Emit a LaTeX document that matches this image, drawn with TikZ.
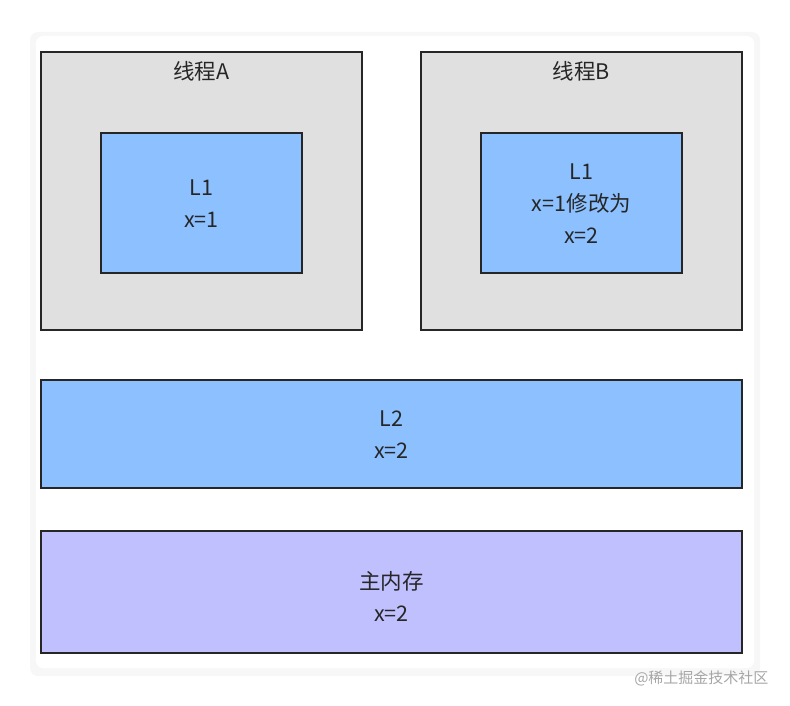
\documentclass[tikz,border=0pt]{standalone}
\usepackage{fontspec}
\setmainfont{Noto Sans CJK SC}
\begin{document}
\begin{tikzpicture}[x=1pt,y=-1pt,
  box/.style={draw=black!85,line width=2.4pt},
  lbl/.style={font=\fontsize{21.5}{32}\selectfont,align=center,text=black!85},
  wm/.style={font=\fontsize{15}{18}\selectfont,text=black!35,anchor=east}]
\useasboundingbox (0,0) rectangle (790,706);
\fill[black!6,rounded corners=8pt] (32,34) rectangle (758,674);
\fill[black!3,rounded corners=8pt] (30,32) rectangle (760,676);
\fill[white,rounded corners=7pt] (36,36) rectangle (754,668);
\draw[box,fill=black!12] (41,52) rectangle (362,330);
\node[lbl] (ta) at (201.5,71) {线程A};
\draw[box,fill={rgb,255:red,140;green,192;blue,255}] (101,133) rectangle (302,273);
\node[lbl] (l1a) at (201.5,204) {L1\\x=1};
\draw[box,fill=black!12] (421,52) rectangle (742,330);
\node[lbl] (tb) at (581.5,71) {线程B};
\draw[box,fill={rgb,255:red,140;green,192;blue,255}] (481,133) rectangle (682,273);
\node[lbl] (l1b) at (581.5,204) {L1\\x=1修改为\\x=2};
\draw[box,fill={rgb,255:red,140;green,192;blue,255}] (41,380) rectangle (742,488);
\node[lbl] (l2) at (391.5,435) {L2\\x=2};
\draw[box,fill={rgb,255:red,192;green,192;blue,255}] (41,531) rectangle (742,653);
\node[lbl] (mm) at (391.5,596) {主内存\\x=2};
\node[wm] (w) at (772,678) {@稀土掘金技术社区};
\end{tikzpicture}
\end{document}
